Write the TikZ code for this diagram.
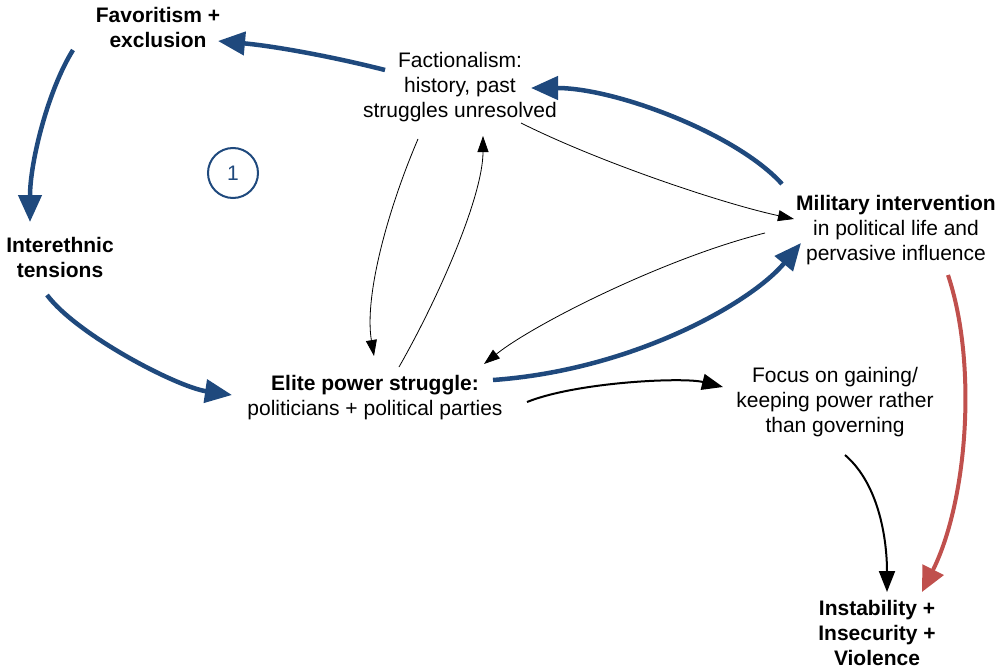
\documentclass[tikz,border=0pt]{standalone}
\usepackage{fontspec}
\setmainfont{Liberation Sans}
\usepackage{tikz}
\usetikzlibrary{arrows.meta,calc}
\definecolor{loopblue}{RGB}{31,73,125}
\definecolor{riskred}{RGB}{192,80,77}

\begin{document}
\begin{tikzpicture}[x=1pt,y=-1pt,
    lbl/.style={align=center,font=\fontsize{21}{25}\selectfont,inner sep=0pt},
    blueflow/.style={draw=loopblue,line width=4.5pt,-{Triangle[length=27pt,width=23pt]}},
    thinflow/.style={draw=black,line width=0.8pt,-{Triangle[length=16pt,width=11pt]}},
    midflow/.style={draw=black,line width=2pt,-{Triangle[length=21pt,width=16pt]}},
    redflow/.style={draw=riskred,line width=4pt,-{Triangle[length=25pt,width=23pt]}}]
   \useasboundingbox (0,0) rectangle (997,669);

   % the factors
   \node[lbl] (fav) at (158,27) {\textbf{Favoritism +}\\\textbf{exclusion}};
   \node[lbl] (fact) at (460,87) {Factionalism:\\history, past\\struggles unresolved};
   \node[lbl] (inter) at (60,257) {\textbf{Interethnic}\\\textbf{tensions}};
   \node[lbl] (mil) at (896,230) {\textbf{Military intervention}\\in political life and\\pervasive influence};
   \node[lbl] (elite) at (375,398) {\textbf{Elite power struggle:}\\politicians + political parties};
   \node[lbl] (focus) at (835,402) {Focus on gaining/\\keeping power rather\\than governing};
   \node[lbl] (inst) at (877,633) {\textbf{Instability +}\\\textbf{Insecurity +}\\\textbf{Violence}};
   \node[circle,draw=loopblue,line width=2pt,minimum size=50pt,inner sep=0pt,
         text=loopblue,font=\fontsize{21}{25}\selectfont] (one) at (233,173) {1};

   % loop 1
   \draw[blueflow] ([shift={(-75,-17)}]fact.center) .. controls +(-55,-14) and +(55,5) .. ([shift={(60,14)}]fav.center);
   \draw[blueflow] ([shift={(-85,23)}]fav.center) .. controls +(-25,40) and +(0,-60) .. ([shift={(-30,-35)}]inter.center);
   \draw[blueflow] ([shift={(-13,38)}]inter.center) .. controls +(30,40) and +(-55,-8) .. ([shift={(-143,-3)}]elite.center);
   \draw[blueflow] ([shift={(118,-18)}]elite.center) .. controls +(140,-10) and +(-50,60) .. ([shift={(-95,13)}]mil.center);
   \draw[blueflow] ([shift={(-114,-46)}]mil.center) .. controls +(-45,-50) and +(85,0) .. ([shift={(71,1)}]fact.center);

   % thin links
   \draw[thinflow] ([shift={(-42,52)}]fact.center) .. controls +(-30,70) and +(-10,-60) .. ([shift={(-1,-42)}]elite.center);
   \draw[thinflow] ([shift={(24,-31)}]elite.center) .. controls +(40,-70) and +(0,60) .. ([shift={(23,49)}]fact.center);
   \draw[thinflow] ([shift={(61,36)}]fact.center) .. controls +(80,40) and +(-70,-15) .. ([shift={(-102,-11)}]mil.center);
   \draw[thinflow] ([shift={(-131,3)}]mil.center) .. controls +(-100,25) and +(50,-40) .. ([shift={(109,-34)}]elite.center);

   % outcomes
   \draw[midflow] ([shift={(152,4)}]elite.center) .. controls +(50,-20) and +(-40,-10) .. ([shift={(-112,-15)}]focus.center);
   \draw[midflow] ([shift={(10,53)}]focus.center) .. controls +(35,30) and +(0,-50) .. ([shift={(10,-41)}]inst.center);
   \draw[redflow] ([shift={(52,45)}]mil.center) .. controls +(30,90) and +(45,-90) .. ([shift={(45,-41)}]inst.center);
\end{tikzpicture}
\end{document}
